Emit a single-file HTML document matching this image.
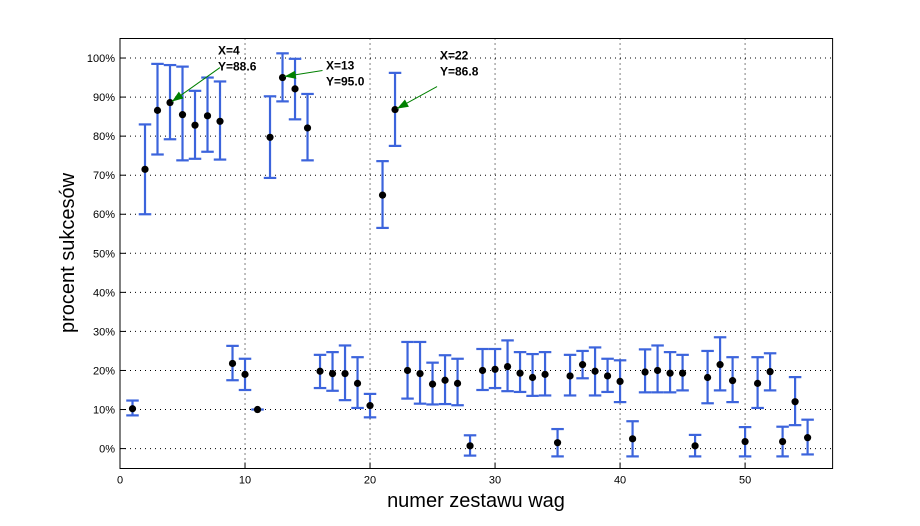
<!DOCTYPE html>
<html><head><meta charset="utf-8"><style>
body{margin:0;background:#fff;}
svg{display:block;font-family:"Liberation Sans",Arial,sans-serif;}
</style></head><body>
<svg id="chart" width="920" height="526" viewBox="0 0 920 526" xmlns="http://www.w3.org/2000/svg">
<rect x="0" y="0" width="920" height="526" fill="#fff"/>
<g id="grid"></g>
<g id="axes"></g>
<g id="series"></g>
<g id="ann"></g>
<text x="476" y="507" font-size="20" text-anchor="middle">numer zestawu wag</text>
<text transform="translate(74,253) rotate(-90)" font-size="20" text-anchor="middle">procent sukcesów</text>
</svg>
<script>
const xs = [1,2,3,4,5,6,7,8,9,10,11,12,13,14,15,16,17,18,19,20,21,22,23,24,25,26,27,28,29,30,31,32,33,34,35,36,37,38,39,40,41,42,43,44,45,46,47,48,49,50,51,52,53,54,55];
const vals = [10.2,71.5,86.6,88.6,85.5,82.8,85.2,83.8,21.8,19,10,79.7,95,92.1,82.1,19.8,19.2,19.2,16.7,11,64.9,86.8,20,19.2,16.5,17.5,16.7,0.7,20,20.3,21,19.3,18.2,19,1.5,18.6,21.5,19.8,18.6,17.2,2.5,19.6,20,19.3,19.3,0.7,18.2,21.5,17.4,1.8,16.7,19.7,1.8,12,2.8];
const lows = [8.5,60,75.3,79.2,73.8,74.2,76,74,17.5,15,10,69.3,88.9,84.3,73.8,15.5,14.8,12.4,10.4,8,56.5,77.5,12.8,11.5,11.3,11.4,11.1,-1.8,15,15.5,14.7,14.5,13.5,13.6,-2,13.6,18,13.6,14.5,11.9,-2,14.4,14.4,14.4,14.9,-2,11.6,14.9,11.9,-2,10.4,14.9,-2,6,-1.5];
const highs = [12.3,83,98.5,98.2,97.8,91.6,95,94,26.3,23,10,90.2,101.2,99.8,90.8,24,24.7,26.4,23.4,14,73.6,96.2,27.3,27.3,22,23.9,23,3.4,25.5,25.5,27.7,24.7,24.2,24.7,5,24,25,25.9,23,22.6,7,25.4,26.4,24.7,24,3.5,25,28.5,23.4,5.5,23.4,24.4,5.6,18.3,7.4];
const xTicks = [0,10,20,30,40,50];
const yTicks = [0,10,20,30,40,50,60,70,80,90,100];
const yTickLabels = ["0%","10%","20%","30%","40%","50%","60%","70%","80%","90%","100%"];
const annX = [4,13,22];
const annY = [88.6,95.0,86.8];
const annLabel = ["X=4\nY=88.6","X=13\nY=95.0","X=22\nY=86.8"];

const L=120,R=832.6,T=38.5,B=468.5,XMIN=0,XMAX=57,YMIN=-5.1,YMAX=105;
const sx=v=>L+(v-XMIN)/(XMAX-XMIN)*(R-L);
const sy=v=>B-(v-YMIN)/(YMAX-YMIN)*(B-T);
const NS="http://www.w3.org/2000/svg";
function mk(tag,attrs,parent){const e=document.createElementNS(NS,tag);for(const k in attrs)e.setAttribute(k,attrs[k]);parent.appendChild(e);return e;}
const grid=document.getElementById('grid'),axes=document.getElementById('axes'),ser=document.getElementById('series'),ann=document.getElementById('ann');
xTicks.forEach(t=>{if(t>XMIN){const l=mk('line',{x1:sx(t),x2:sx(t),y1:T,y2:B,stroke:'#000','stroke-width':1,'stroke-dasharray':'1,4'},grid);}
 const tk=mk('line',{x1:sx(t),x2:sx(t),y1:B,y2:B-6,stroke:'#000'},axes);
 const tx=mk('text',{x:sx(t),y:B+15,'font-size':11,'text-anchor':'middle'},axes);tx.textContent=t;});
yTicks.forEach((t,i)=>{const l=mk('line',{x1:L,x2:R,y1:sy(t),y2:sy(t),stroke:'#000','stroke-width':1,'stroke-dasharray':'1,4'},grid);
 const tk=mk('line',{x1:L,x2:L+6,y1:sy(t),y2:sy(t),stroke:'#000'},axes);
 const tx=mk('text',{x:L-5,y:sy(t)+4,'font-size':11,'text-anchor':'end'},axes);tx.textContent=yTickLabels[i];});
const box=mk('rect',{x:L,y:T,width:R-L,height:B-T,fill:'none',stroke:'#000','stroke-width':1},axes);

const cw=(sx(1)-sx(0))*0.5;
xs.forEach((x,i)=>{const g=mk('g',{},ser);
 const cx=sx(x);const st={stroke:'#3c64dc','stroke-width':2.2};
 if(highs[i]!==lows[i]){
 mk('line',Object.assign({x1:cx,x2:cx,y1:sy(lows[i]),y2:sy(highs[i])},st),g);
 mk('line',Object.assign({x1:cx-cw,x2:cx+cw,y1:sy(lows[i]),y2:sy(lows[i])},st),g);
 mk('line',Object.assign({x1:cx-cw,x2:cx+cw,y1:sy(highs[i]),y2:sy(highs[i])},st),g);}
 else{mk('line',Object.assign({x1:cx-cw,x2:cx+cw,y1:sy(vals[i]),y2:sy(vals[i])},st),g);}
 mk('circle',{cx:cx,cy:sy(vals[i]),r:3.6,fill:'#000'},g);});
const offs=[[48,-34],[38,-6],[40,-22]];
annX.forEach((x,i)=>{const g=mk('g',{},ann);
 const px=sx(x)+2,py=sy(annY[i])-1;const tx0=px+offs[i][0],ty0=py+offs[i][1];
 mk('line',{x1:tx0,y1:ty0,x2:px,y2:py,stroke:'#008000','stroke-width':1},g);
 const ang=Math.atan2(ty0-py,tx0-px),a=12,w=0.35;
 mk('polygon',{points:`${px},${py} ${px+a*Math.cos(ang+w)},${py+a*Math.sin(ang+w)} ${px+a*Math.cos(ang-w)},${py+a*Math.sin(ang-w)}`,fill:'#008000'},g);
 const lines=annLabel[i].split('\n');
 const ty=i===0?sy(annY[i])-48:(i===1?sy(annY[i])-8:sy(annY[i])-50);
 const tX=i===0?218:(i===1?326:440);
 lines.forEach((s,j)=>{const t=mk('text',{x:tX,y:ty+j*16,'font-size':12,'font-weight':'bold'},g);t.textContent=s;});});
</script>
</body></html>
